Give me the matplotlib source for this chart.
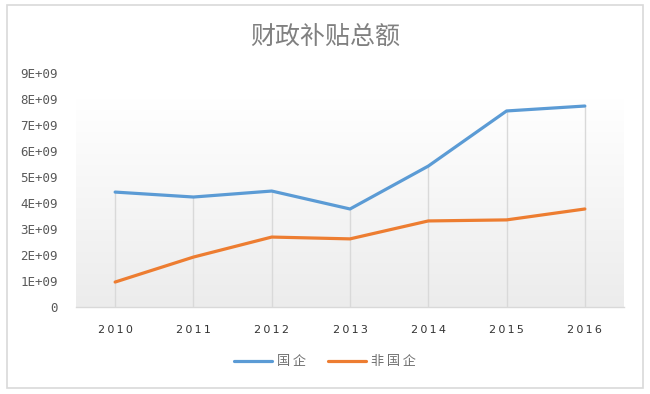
import matplotlib.pyplot as plt
import numpy as np
from matplotlib.patches import Rectangle
from matplotlib.ticker import FuncFormatter, MultipleLocator

plt.rcParams['font.family'] = ['Noto Sans CJK SC', 'DejaVu Sans']

# data
years = ['2010', '2011', '2012', '2013', '2014', '2015', '2016']
soe = [4.42e9, 4.23e9, 4.46e9, 3.77e9, 5.42e9, 7.54e9, 7.73e9]
non_soe = [0.96e9, 1.92e9, 2.69e9, 2.62e9, 3.31e9, 3.35e9, 3.77e9]

blue = "#5B9BD5"
orange = "#ED7D31"
text_gray = "#595959"
grid_gray = "#d9d9d9"

fig = plt.figure(figsize=(6.5, 3.94), dpi=100)
ax = fig.add_axes([76 / 650, 1 - 307 / 394, 548 / 650, 234 / 394])

# outer chart border
fig.patches.append(Rectangle((7 / 650, 1 - 388 / 394), 636 / 650, 383 / 394,
                             transform=fig.transFigure, fill=False,
                             edgecolor="#d9d9d9", linewidth=1.2))

x = np.arange(len(years))

# soft gradient background of the plot area
grad = np.linspace(1.0, 0.0, 256).reshape(-1, 1)
ax.imshow(grad, extent=(-0.5, len(years) - 0.5, 0, 8e9), aspect='auto',
          cmap=plt.matplotlib.colors.LinearSegmentedColormap.from_list(
              'g', ["#ececec", "#ffffff"]), vmin=0, vmax=1, zorder=0)

# drop lines from the higher point down to the axis
ax.vlines(x, 0, np.maximum(soe, non_soe), color=grid_gray, linewidth=1, zorder=1)

ax.plot(x, soe, color=blue, linewidth=2.3, label='国\u2009企', zorder=3,
        solid_capstyle='round')
ax.plot(x, non_soe, color=orange, linewidth=2.3, label='非\u2009国\u2009企',
        zorder=3, solid_capstyle='round')

ax.set_xlim(-0.5, len(years) - 0.5)
ax.set_ylim(0, 9e9)
ax.yaxis.set_major_locator(MultipleLocator(1e9))
ax.yaxis.set_major_formatter(FuncFormatter(
    lambda v, p: '0' if v == 0 else f'{v / 1e9:.0f}E+09'))
ax.set_xticks(x)
ax.set_xticklabels(['\u2009'.join(y) for y in years], fontsize=8,
                   color="#333333", family='DejaVu Sans')
for lab in ax.get_yticklabels():
    lab.set_fontsize(9)
    lab.set_color(text_gray)
    lab.set_family('DejaVu Sans Mono')

ax.tick_params(axis='both', length=0)
ax.tick_params(axis='y', pad=13)
ax.tick_params(axis='x', pad=13)

for side in ['top', 'right', 'left']:
    ax.spines[side].set_visible(False)
ax.spines['bottom'].set_color(grid_gray)
ax.spines['bottom'].set_linewidth(1)

fig.text(0.5, 1 - 37 / 394, '财政补贴总额', ha='center', va='center',
         fontsize=18, color="#808080", fontweight='light')

fig.legend(loc='center', bbox_to_anchor=(0.5, 1 - 362 / 394), ncol=2,
           frameon=False, fontsize=9.5, handlelength=2.9, columnspacing=1.6,
           handletextpad=0.4, labelcolor="#707070")

plt.savefig('out.png', dpi=100)
